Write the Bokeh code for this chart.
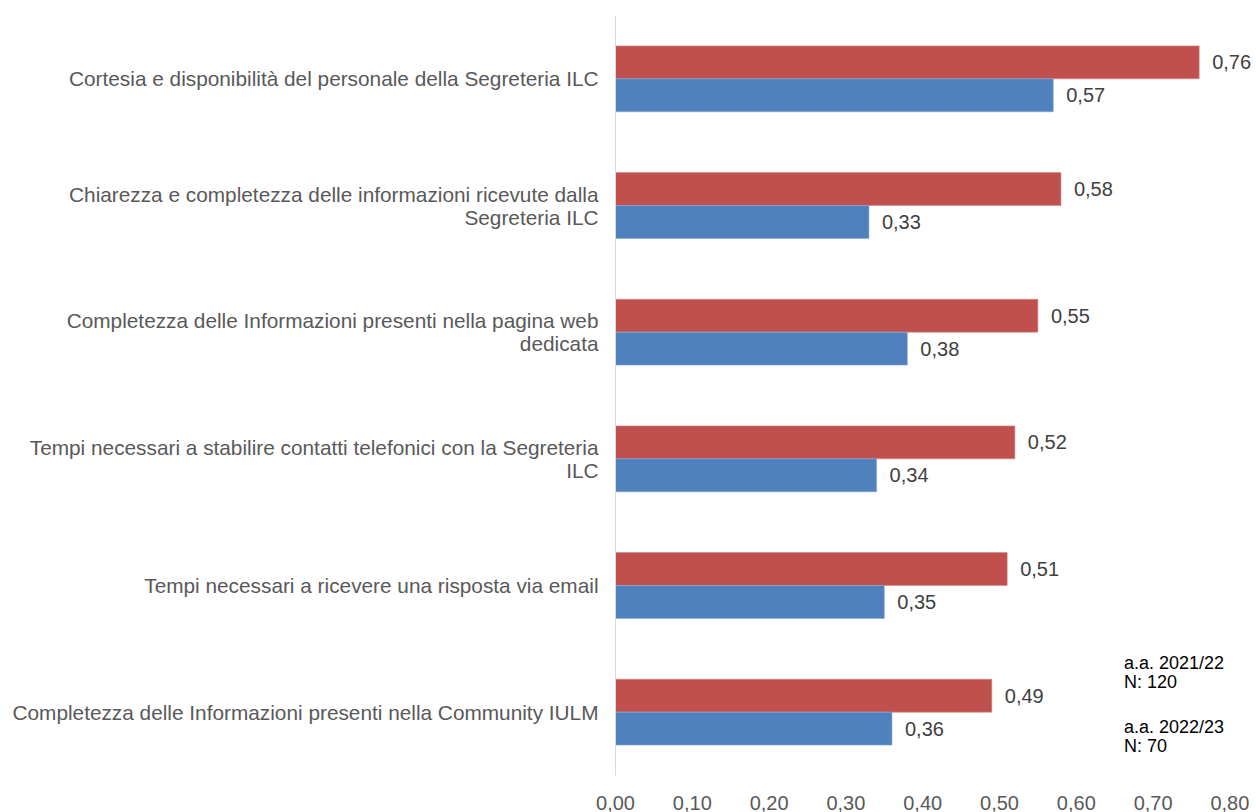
from bokeh.plotting import figure
from bokeh.models import ColumnDataSource, FactorRange, LabelSet, Range1d, FixedTicker, CustomJSTickFormatter
from bokeh.core.properties import value
from bokeh.transform import dodge
from bokeh.embed import file_html
from bokeh.resources import INLINE

categories = [
    "Cortesia e disponibilità del personale della Segreteria ILC",
    "Chiarezza e completezza delle informazioni ricevute dalla\nSegreteria ILC",
    "Completezza delle Informazioni presenti nella pagina web\ndedicata",
    "Tempi necessari a stabilire contatti telefonici con la Segreteria\nILC",
    "Tempi necessari a ricevere una risposta via email",
    "Completezza delle Informazioni presenti nella Community IULM",
]
values_2021 = [0.76, 0.58, 0.55, 0.52, 0.51, 0.49]
values_2022 = [0.57, 0.33, 0.38, 0.34, 0.35, 0.36]
x_ticks = [0.0, 0.1, 0.2, 0.3, 0.4, 0.5, 0.6, 0.7, 0.8]
legend_lines = ["a.a. 2021/22", "N: 120", "a.a. 2022/23", "N: 70"]
legend_y = [0.886, 0.740, 0.381, 0.229]
legend_x = [0.662, 0.662, 0.662, 0.662]

RED = "#C0504D"
BLUE = "#4F81BD"
TXT = "#595959"
FONT = "Liberation Sans"

factors = list(reversed(categories))

def fmt(v):
    return ("%.2f" % v).replace(".", ",")

src = ColumnDataSource(dict(
    cat=categories,
    v21=values_2021,
    v22=values_2022,
    l21=[fmt(v) for v in values_2021],
    l22=[fmt(v) for v in values_2022],
))

p = figure(
    width=1256, height=812,
    y_range=FactorRange(factors=factors, range_padding=0),
    x_range=Range1d(0, 641 / 768),
    output_backend="svg", toolbar_location=None,
    min_border_left=615, min_border_right=0, min_border_top=15, min_border_bottom=37,
)
p.outline_line_color = None
p.grid.grid_line_color = None
p.background_fill_color = "white"
p.border_fill_color = "white"

off = 0.13
h = 0.26
p.hbar(y=dodge("cat", off, range=p.y_range), left=0, right="v21", height=h,
       source=src, fill_color=RED, line_color="#D08A88", line_width=0.6)
p.hbar(y=dodge("cat", -off, range=p.y_range), left=0, right="v22", height=h,
       source=src, fill_color=BLUE, line_color="#86A7D3", line_width=0.6)

lab_kw = dict(x_offset=13, text_baseline="middle", text_align="left",
              text_font_size="20px", text_color="#404040", text_font=value(FONT))
p.add_layout(LabelSet(x="v21", y=dodge("cat", off, range=p.y_range), text="l21",
                      source=src, **lab_kw))
p.add_layout(LabelSet(x="v22", y=dodge("cat", -off, range=p.y_range), text="l22",
                      source=src, **lab_kw))

leg_src = ColumnDataSource(dict(x=legend_x, y=legend_y, t=legend_lines))
p.add_layout(LabelSet(x="x", y="y", text="t", source=leg_src, text_baseline="middle",
                      text_align="left", text_font_size="18px", text_color="#000000",
                      text_font=value(FONT)))

# y axis
ya = p.yaxis[0]
ya.axis_line_color = "#D9D9D9"
ya.axis_line_width = 1
ya.major_tick_line_color = None
ya.minor_tick_line_color = None
ya.major_label_text_font = FONT
ya.major_label_text_font_size = "20.8px"
ya.major_label_text_color = TXT
ya.major_label_standoff = 11
ya.major_label_text_line_height = 1.0

# x axis
xa = p.xaxis[0]
xa.ticker = FixedTicker(ticks=x_ticks)
xa.formatter = CustomJSTickFormatter(code="return tick.toFixed(2).replace('.', ',');")
xa.axis_line_color = None
xa.major_tick_line_color = None
xa.minor_tick_line_color = None
xa.major_label_text_font = FONT
xa.major_label_text_font_size = "20px"
xa.major_label_text_color = TXT
xa.major_label_standoff = 14

open("out.html", "w").write(file_html(p, INLINE))
